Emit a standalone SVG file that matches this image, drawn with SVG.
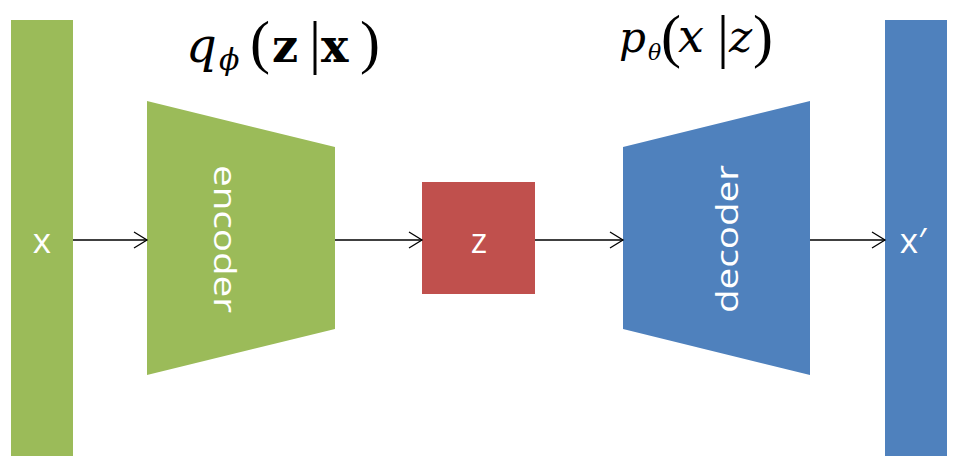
<svg xmlns="http://www.w3.org/2000/svg" width="957" height="473" viewBox="0 0 957 473">
<style>
.g{fill:#9BBB59}.b{fill:#4F81BD}.r{fill:#C0504D}
.lbl{fill:#fff;font-family:"Open Sans","Liberation Sans",sans-serif;font-weight:400;text-anchor:middle}
.math{font-family:"DejaVu Serif","Liberation Serif",serif;font-size:46px;fill:#000}
.it{font-style:italic}.bf{font-weight:bold}
.pr{font-family:"Liberation Serif","DejaVu Serif",serif;font-size:60px;font-weight:normal;font-style:normal}
.conn line{stroke:#000;stroke-width:1.3}
</style>
<defs>
<marker id="ah" markerWidth="16" markerHeight="18" refX="14" refY="9" orient="auto" markerUnits="userSpaceOnUse">
<path d="M1,1 L14,9 L1,17" fill="none" stroke="#000" stroke-width="1.3"/>
</marker>
</defs>
<rect width="957" height="473" fill="#fff"/>
<g id="x">
<rect class="g" x="11" y="20" width="62" height="436"/>
<text class="lbl" x="42" y="253" font-size="35">x</text>
</g>
<g id="encoder">
<polygon class="g" points="147,101 335,147 335,329 147,375"/>
<text class="lbl" font-size="31" transform="translate(225,239) rotate(90)" y="11" textLength="148" lengthAdjust="spacingAndGlyphs">encoder</text>
</g>
<g id="z">
<rect class="r" x="422" y="182" width="113" height="112"/>
<text class="lbl" x="479" y="253" font-size="35">z</text>
</g>
<g id="decoder">
<polygon class="b" points="623,147 810,101 810,375 623,329"/>
<text class="lbl" font-size="31" transform="translate(727,239) rotate(-90)" y="11" textLength="148" lengthAdjust="spacingAndGlyphs">decoder</text>
</g>
<g id="xprime">
<rect class="b" x="885" y="20" width="62" height="436"/>
<text class="lbl" x="913" y="253" font-size="35">x′</text>
</g>
<g id="labels">
<text class="math" y="62"><tspan class="it" x="186" font-size="48">q</tspan><tspan class="it" x="219" y="70" font-size="30">ϕ</tspan><tspan class="pr" x="250" y="62">(</tspan><tspan class="bf" x="272" y="62">z</tspan><tspan class="pr" x="309" y="62">|</tspan><tspan class="bf" x="321" y="62">x</tspan><tspan class="pr" x="360" y="62">)</tspan></text>
<text class="math" y="52"><tspan class="it" x="619" font-size="42">p</tspan><tspan class="it" x="648" y="60" font-size="22">θ</tspan><tspan class="pr" x="661" y="56" font-size="58">(</tspan><tspan class="it" x="678" y="52" font-size="46">x</tspan><tspan class="pr" x="717" y="56" font-size="58">|</tspan><tspan class="it" x="729" y="52" font-size="44">z</tspan><tspan class="pr" x="753" y="56" font-size="58">)</tspan></text>
</g>
<g class="conn" id="connectors">
<line x1="73" y1="240" x2="147" y2="240" marker-end="url(#ah)"/>
<line x1="335" y1="240" x2="422" y2="240" marker-end="url(#ah)"/>
<line x1="535" y1="240" x2="623" y2="240" marker-end="url(#ah)"/>
<line x1="810" y1="240" x2="885" y2="240" marker-end="url(#ah)"/>
</g>
</svg>
